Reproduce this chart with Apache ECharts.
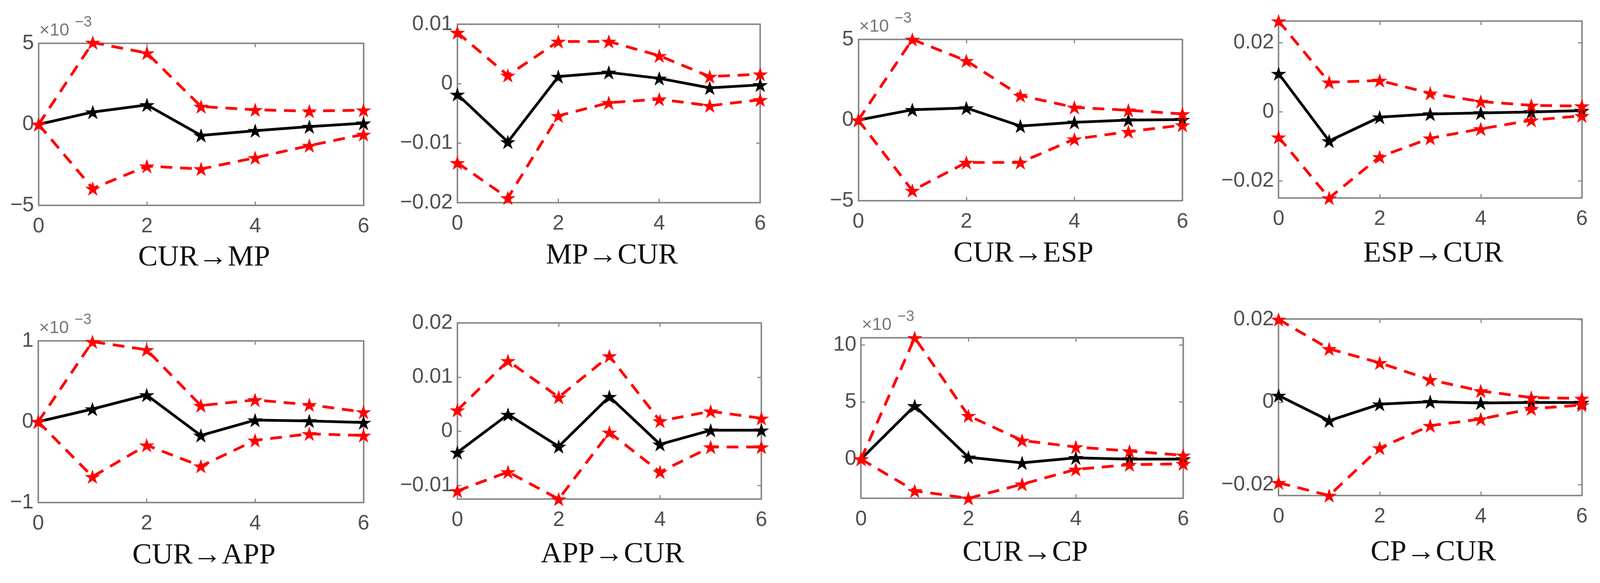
<!DOCTYPE html>
<html>
<head>
<meta charset="utf-8">
<script src="https://cdn.jsdelivr.net/npm/echarts@6/dist/echarts.min.js"></script>
<style>html,body{margin:0;padding:0;background:#fff;overflow:hidden}#c{width:100vw;height:100vh}</style>
</head>
<body>
<div id="c"></div>
<script>
// ---------- data ----------
const horizons = [0, 1, 2, 3, 4, 5, 6];
const xTicks = [0, 2, 4, 6];
const titles = ['CUR\u2192MP', 'MP\u2192CUR', 'CUR\u2192ESP', 'ESP\u2192CUR',
                'CUR\u2192APP', 'APP\u2192CUR', 'CUR\u2192CP', 'CP\u2192CUR'];
const scaled = [true, false, true, false, true, false, true, false]; // panels shown in x10^-3

// CUR -> MP (x10^-3)
const curMpMid = [0, 0.76, 1.2, -0.68, -0.39, -0.14, 0.07];
const curMpUp  = [0, 5.05, 4.4, 1.1, 0.9, 0.82, 0.88];
const curMpLow = [0, -3.96, -2.58, -2.75, -2.06, -1.31, -0.62];
// MP -> CUR
const mpCurMid = [-0.0018, -0.0098, 0.0012, 0.0019, 0.0009, -0.0007, -0.0002];
const mpCurUp  = [0.0086, 0.0014, 0.0071, 0.0071, 0.0047, 0.0012, 0.0016];
const mpCurLow = [-0.0133, -0.0192, -0.0054, -0.0032, -0.0026, -0.0037, -0.0027];
// CUR -> ESP (x10^-3)
const curEspMid = [0, 0.64, 0.75, -0.37, -0.14, 0.0, 0.03];
const curEspUp  = [0, 5.0, 3.68, 1.52, 0.79, 0.61, 0.38];
const curEspLow = [0, -4.37, -2.63, -2.63, -1.18, -0.72, -0.31];
// ESP -> CUR
const espCurMid = [0.0111, -0.0084, -0.0015, -0.0006, -0.0003, 0.0, 0.0004];
const espCurUp  = [0.0263, 0.0086, 0.0091, 0.0054, 0.003, 0.0019, 0.0017];
const espCurLow = [-0.0073, -0.0249, -0.013, -0.0076, -0.0049, -0.0024, -0.0011];
// CUR -> APP (x10^-3)
const curAppMid = [0, 0.157, 0.33, -0.17, 0.02, 0.01, -0.01];
const curAppUp  = [0, 0.99, 0.89, 0.2, 0.27, 0.21, 0.12];
const curAppLow = [0, -0.68, -0.29, -0.55, -0.23, -0.15, -0.17];
// APP -> CUR
const appCurMid = [-0.0039, 0.0031, -0.0028, 0.0064, -0.0024, 0.0002, 0.0002];
const appCurUp  = [0.0039, 0.013, 0.0063, 0.0139, 0.0019, 0.0037, 0.0024];
const appCurLow = [-0.011, -0.0075, -0.0125, -0.0002, -0.0075, -0.0029, -0.0029];
// CUR -> CP (x10^-3)
const curCpMid = [0, 4.66, 0.16, -0.33, 0.11, 0, 0];
const curCpUp  = [0, 10.62, 3.8, 1.63, 1.06, 0.7, 0.33];
const curCpLow = [0, -2.78, -3.43, -2.2, -0.9, -0.49, -0.41];
// CP -> CUR
const cpCurMid = [0.0016, -0.0045, -0.0005, 0.0001, -0.0002, -0.0001, -0.0001];
const cpCurUp  = [0.02, 0.0129, 0.0095, 0.0054, 0.0027, 0.0011, 0.0009];
const cpCurLow = [-0.0195, -0.0226, -0.0111, -0.0057, -0.0041, -0.0016, -0.0007];

// axis extents and tick labels
const yMin = [-5, -0.02, -5, -0.0249, -1, -0.0125, -3.43, -0.0226];
const yMax = [5, 0.01, 5, 0.0263, 1, 0.02, 10.62, 0.0201];
const yTicks = [[-5, 0, 5], [-0.02, -0.01, 0, 0.01], [-5, 0, 5], [-0.02, 0, 0.02],
                [-1, 0, 1], [-0.01, 0, 0.01, 0.02], [0, 5, 10], [-0.02, 0, 0.02]];

const mids = [curMpMid, mpCurMid, curEspMid, espCurMid, curAppMid, appCurMid, curCpMid, cpCurMid];
const ups  = [curMpUp, mpCurUp, curEspUp, espCurUp, curAppUp, appCurUp, curCpUp, cpCurUp];
const lows = [curMpLow, mpCurLow, curEspLow, espCurLow, curAppLow, appCurLow, curCpLow, cpCurLow];

// ---------- layout (reference pixels, 4142 x 1493; scaled to the viewport) ----------
const REF_W = 4142, REF_H = 1493;
const boxes = [
  {l: 100, t: 111, w: 841, h: 415},
  {l: 1184, t: 62, w: 784, h: 457},
  {l: 2222, t: 101, w: 839, h: 413},
  {l: 3310, t: 54, w: 785, h: 453},
  {l: 99, t: 873, w: 842, h: 414},
  {l: 1184, t: 827, w: 787, h: 451},
  {l: 2229, t: 865, w: 834, h: 411},
  {l: 3310, t: 817, w: 785, h: 452}
];
const titleY = [660, 655, 650, 650, 1423, 1420, 1416, 1415];

const el = document.getElementById('c');
const W = el.clientWidth || window.innerWidth, H = el.clientHeight || window.innerHeight;
const sx = W / REF_W, sy = H / REF_H, sf = Math.min(sx, sy);

const STAR = 'path://M50,0 L61.8,35.4 L100,35.4 L69.1,57.3 L80.9,92.7 L50,70.8 L19.1,92.7 L30.9,57.3 L0,35.4 L38.2,35.4 Z';
const AX = '#8a8a8a';
const LBL = '#505050';
const NUMFONT = '"Liberation Sans Narrow", "Liberation Sans", Arial, sans-serif';
const fmt = v => String(+(+v).toFixed(6)).replace('-', '\u2212');

const grid = [], xAxis = [], yAxis = [], series = [], graphic = [];
boxes.forEach((b0, i) => {
  const b = {l: b0.l * sx, t: b0.t * sy, w: b0.w * sx, h: b0.h * sy};
  grid.push({left: b.l, top: b.t, width: b.w, height: b.h, show: false, containLabel: false});
  const axLine = {show: true, onZero: false, lineStyle: {color: AX, width: 4}};
  const tickX = {show: true, inside: true, length: 10, lineStyle: {color: AX, width: 3}, customValues: xTicks};
  const tickY = {show: true, inside: true, length: 10, lineStyle: {color: AX, width: 3}, customValues: yTicks[i]};
  xAxis.push({gridIndex: i, type: 'value', min: 0, max: 6, position: 'bottom',
    axisLine: axLine, axisTick: tickX, splitLine: {show: false},
    axisLabel: {customValues: xTicks, margin: 28 * sy, fontSize: 54 * sf, color: LBL, fontFamily: NUMFONT, formatter: fmt}});
  xAxis.push({gridIndex: i, type: 'value', min: 0, max: 6, position: 'top',
    axisLine: axLine, axisTick: tickX, splitLine: {show: false}, axisLabel: {show: false}});
  yAxis.push({gridIndex: i, type: 'value', min: yMin[i], max: yMax[i], position: 'left',
    axisLine: axLine, axisTick: tickY, splitLine: {show: false},
    axisLabel: {customValues: yTicks[i], margin: 12 * sx, fontSize: 54 * sf, color: LBL, fontFamily: NUMFONT, formatter: fmt}});
  yAxis.push({gridIndex: i, type: 'value', min: yMin[i], max: yMax[i], position: 'right',
    axisLine: axLine, axisTick: tickY, splitLine: {show: false}, axisLabel: {show: false}});

  const toPts = arr => horizons.map((h, k) => [h, arr[k]]);
  series.push({type: 'line', xAxisIndex: 2 * i, yAxisIndex: 2 * i, data: toPts(mids[i]),
    clip: false, symbol: STAR, symbolSize: 40 * sf, symbolKeepAspect: true,
    lineStyle: {color: '#000', width: 7}, itemStyle: {color: '#000'}, z: 3, animation: false});
  series.push({type: 'line', xAxisIndex: 2 * i, yAxisIndex: 2 * i, data: toPts(ups[i]),
    clip: false, symbol: STAR, symbolSize: 40 * sf, symbolKeepAspect: true,
    lineStyle: {color: '#ff0000', width: 7, type: [30, 20]}, itemStyle: {color: '#ff0000'}, z: 4, animation: false});
  series.push({type: 'line', xAxisIndex: 2 * i, yAxisIndex: 2 * i, data: toPts(lows[i]),
    clip: false, symbol: STAR, symbolSize: 40 * sf, symbolKeepAspect: true,
    lineStyle: {color: '#ff0000', width: 7, type: [30, 20]}, itemStyle: {color: '#ff0000'}, z: 4, animation: false});

  graphic.push({type: 'text', x: b.l + b.w / 2 + 8 * sx, y: titleY[i] * sy, z: 10,
    style: {text: titles[i], font: Math.round(76 * sf) + 'px "Liberation Serif", "Times New Roman", serif', fill: '#111',
      align: 'center', verticalAlign: 'middle'}});
  if (scaled[i]) {
    graphic.push({type: 'text', x: b.l + 2 * sx, y: b.t - 10 * sy, z: 10,
      style: {text: '\u00d710', font: Math.round(46 * sf) + 'px ' + NUMFONT, fill: '#777', align: 'left', verticalAlign: 'bottom'}});
    graphic.push({type: 'text', x: b.l + 94 * sx, y: b.t - 34 * sy, z: 10,
      style: {text: '\u22123', font: Math.round(38 * sf) + 'px ' + NUMFONT, fill: '#777', align: 'left', verticalAlign: 'bottom'}});
  }
});

const chart = echarts.init(el, null, {renderer: 'canvas', devicePixelRatio: 1});
chart.setOption({backgroundColor: '#fff', animation: false, grid, xAxis, yAxis, series, graphic});
</script>
</body>
</html>
